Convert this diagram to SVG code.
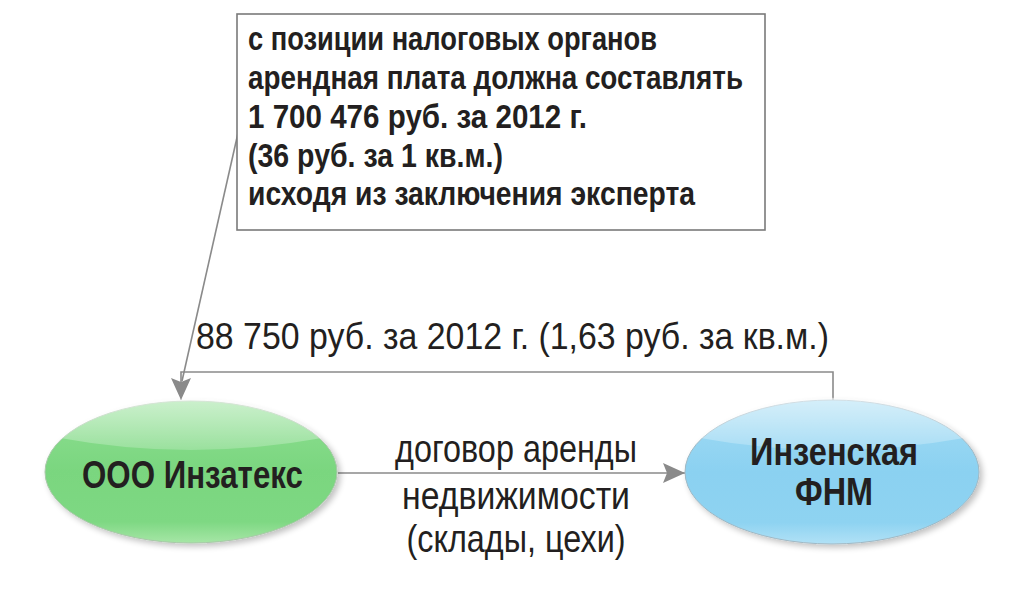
<svg xmlns="http://www.w3.org/2000/svg" width="1024" height="590" viewBox="0 0 1024 590">
<style>
  .t { font-family: "Liberation Sans", Arial, sans-serif; fill: #231f20; }
  .b { font-weight: bold; }
  .conn { fill: none; stroke: #8a8a8a; stroke-width: 1.6; }
  .box { fill: #ffffff; stroke: #7a7a7a; stroke-width: 1.6; }
</style>
<defs>
  <marker id="arr" viewBox="0 0 22 20" refX="22" refY="10" markerWidth="22" markerHeight="20" markerUnits="userSpaceOnUse" orient="auto">
    <path d="M0,0 L22,10 L0,20 L4,10 Z" fill="#8a8a8a"/>
  </marker>
  <linearGradient id="gGreen" x1="0" y1="0" x2="0" y2="1">
    <stop offset="0" stop-color="#8fdf92"/>
    <stop offset="0.5" stop-color="#7ad67f"/>
    <stop offset="0.85" stop-color="#7ed883"/>
    <stop offset="1" stop-color="#a6e6a6"/>
  </linearGradient>
  <linearGradient id="gBlue" x1="0" y1="0" x2="0" y2="1">
    <stop offset="0" stop-color="#a3dcf4"/>
    <stop offset="0.5" stop-color="#8bd1f1"/>
    <stop offset="0.85" stop-color="#8ed3f1"/>
    <stop offset="1" stop-color="#b1e1f6"/>
  </linearGradient>
  <linearGradient id="hl" x1="0" y1="0" x2="0" y2="1">
    <stop offset="0" stop-color="#ffffff" stop-opacity="0.55"/>
    <stop offset="1" stop-color="#ffffff" stop-opacity="0.2"/>
  </linearGradient>
  <filter id="sh" x="-10%" y="-10%" width="125%" height="130%">
    <feGaussianBlur in="SourceAlpha" stdDeviation="3"/>
    <feOffset dx="3" dy="3" result="o"/>
    <feComponentTransfer><feFuncA type="linear" slope="0.25"/></feComponentTransfer>
    <feMerge><feMergeNode/><feMergeNode in="SourceGraphic"/></feMerge>
  </filter>
</defs>

<g id="connectors">
  <path class="conn" d="M238,133 L182,381"/>
  <path class="conn" d="M833,401 L833,372 L181,372 L181,400" marker-end="url(#arr)"/>
  <path class="conn" d="M338,473 L685,473" marker-end="url(#arr)"/>
</g>

<g id="note">
  <rect class="box" x="237" y="14" width="528" height="216"/>
  <text class="t b" font-size="33" x="248" y="50" textLength="409" lengthAdjust="spacingAndGlyphs">с позиции налоговых органов</text>
  <text class="t b" font-size="33" x="248" y="89" textLength="495" lengthAdjust="spacingAndGlyphs">арендная плата должна составлять</text>
  <text class="t b" font-size="33" x="248" y="128" textLength="339" lengthAdjust="spacingAndGlyphs">1 700 476 руб. за 2012 г.</text>
  <text class="t b" font-size="33" x="248" y="167" textLength="255" lengthAdjust="spacingAndGlyphs">(36 руб. за 1 кв.м.)</text>
  <text class="t b" font-size="33" x="248" y="205" textLength="447" lengthAdjust="spacingAndGlyphs">исходя из заключения эксперта</text>
</g>

<g id="price-label">
  <text class="t" font-size="36" x="196" y="349" textLength="633" lengthAdjust="spacingAndGlyphs">88 750 руб. за 2012 г. (1,63 руб. за кв.м.)</text>
</g>

<g id="contract-label">
  <text class="t" font-size="39" x="516" y="462" text-anchor="middle" textLength="242" lengthAdjust="spacingAndGlyphs">договор аренды</text>
  <text class="t" font-size="39" x="516" y="509" text-anchor="middle" textLength="228" lengthAdjust="spacingAndGlyphs">недвижимости</text>
  <text class="t" font-size="39" x="516" y="552" text-anchor="middle" textLength="219" lengthAdjust="spacingAndGlyphs">(склады, цехи)</text>
</g>

<g id="node-inzateks">
  <ellipse cx="191" cy="472" rx="146" ry="71" fill="url(#gGreen)" stroke="#a8c8a8" stroke-width="1" filter="url(#sh)"/>
  <path d="M60,438 A146,71 0 0 1 322,438 Q191,462 60,438 Z" fill="url(#hl)"/>
  <text class="t b" font-size="39" x="192.5" y="488" text-anchor="middle" textLength="221" lengthAdjust="spacingAndGlyphs">ООО Инзатекс</text>
</g>

<g id="node-fnm">
  <ellipse cx="832" cy="472" rx="147" ry="72" fill="url(#gBlue)" stroke="#9fb8c4" stroke-width="1" filter="url(#sh)"/>
  <path d="M700,438 A147,72 0 0 1 964,438 Q832,462 700,438 Z" fill="url(#hl)"/>
  <text class="t b" font-size="38" x="834" y="465" text-anchor="middle" textLength="168" lengthAdjust="spacingAndGlyphs">Инзенская</text>
  <text class="t b" font-size="38" x="834" y="505" text-anchor="middle" textLength="78" lengthAdjust="spacingAndGlyphs">ФНМ</text>
</g>
</svg>
